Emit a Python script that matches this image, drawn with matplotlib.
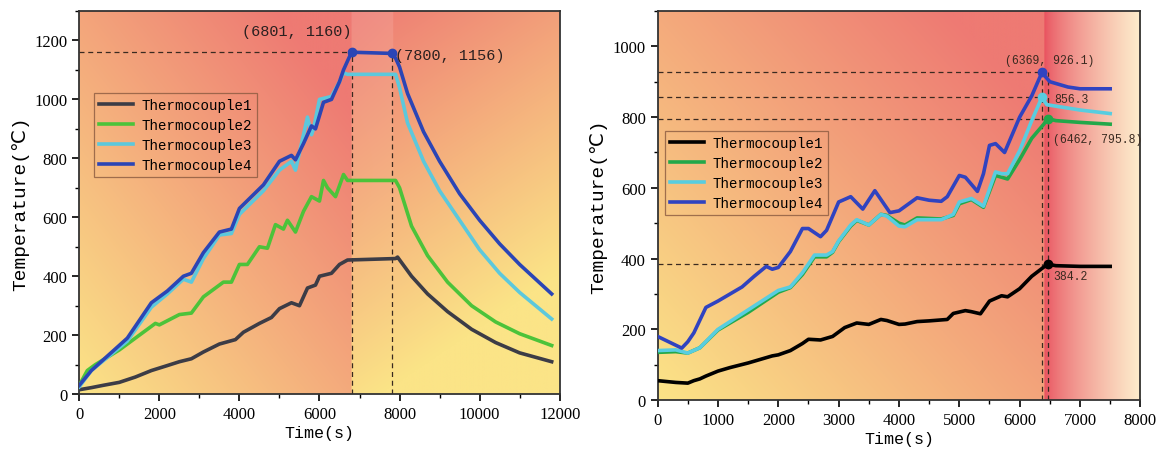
import numpy as np
import matplotlib.pyplot as plt
from matplotlib.ticker import MultipleLocator

# ---- left panel: full heating / holding / cooling cycle ----
t1_time = [0, 300, 600, 1000, 1400, 1800, 2200, 2500, 2800, 3100, 3500, 3900, 4100, 4500,
           4800, 5000, 5300, 5500, 5700, 5900, 6000, 6300, 6500, 6700, 7900, 7950, 8300,
           8700, 9200, 9800, 10400, 11000, 11800]
t1_temp = [15, 22, 30, 40, 58, 80, 97, 110, 120, 143, 170, 185, 210, 240, 260, 290, 310, 300,
           360, 370, 400, 410, 440, 455, 460, 465, 400, 340, 280, 220, 175, 140, 110]

t2_time = [0, 200, 400, 1000, 1500, 1900, 2000, 2500, 2800, 3100, 3600, 3800, 4000, 4200,
           4500, 4700, 4900, 5100, 5200, 5400, 5600, 5800, 6000, 6100, 6200, 6400, 6600,
           6700, 7900, 8000, 8300, 8700, 9200, 9800, 10400, 11000, 11800]
t2_temp = [30, 80, 100, 150, 200, 240, 235, 270, 275, 330, 380, 380, 440, 440, 500, 495, 575,
           560, 590, 550, 620, 670, 655, 725, 700, 670, 745, 725, 725, 700, 570, 470, 380,
           300, 245, 205, 165]

t3_time = [0, 300, 1200, 1800, 2200, 2600, 2800, 3100, 3500, 3800, 4000, 4600, 5000, 5300,
           5400, 5600, 5700, 5800, 5850, 6000, 6300, 6500, 6600, 6700, 7900, 8000, 8200,
           8600, 9000, 9500, 10000, 10500, 11000, 11800]
t3_temp = [25, 80, 180, 295, 340, 390, 380, 460, 540, 545, 610, 690, 760, 790, 760, 880, 940,
           880, 900, 1000, 1010, 1060, 1090, 1085, 1085, 1040, 920, 790, 690, 590, 490, 410,
           345, 255]

t4_time = [0, 300, 1200, 1800, 2200, 2600, 2800, 3100, 3500, 3800, 4000, 4600, 5000, 5300,
           5400, 5600, 5800, 5900, 6100, 6300, 6500, 6600, 6700, 6801, 7800, 7900, 8000,
           8200, 8600, 9000, 9500, 10000, 10500, 11000, 11800]
t4_temp = [30, 80, 190, 310, 350, 400, 410, 480, 550, 560, 630, 710, 790, 810, 795, 850, 910,
           900, 990, 1000, 1060, 1100, 1130, 1160, 1156, 1140, 1110, 1020, 890, 790, 680,
           590, 510, 440, 340]

# ---- right panel ----
r1_time = [0, 300, 500, 600, 700, 800, 1000, 1200, 1500, 1700, 1900, 2000, 2200, 2400, 2500,
           2700, 2900, 3100, 3300, 3500, 3700, 3800, 4000, 4100, 4300, 4500, 4800, 4900,
           5100, 5200, 5350, 5500, 5700, 5800, 6000, 6200, 6462, 6600, 7000, 7500]
r1_temp = [55, 50, 48, 55, 60, 68, 82, 92, 105, 115, 125, 128, 140, 160, 172, 170, 180, 205,
           218, 214, 228, 225, 214, 215, 222, 224, 228, 245, 253, 250, 244, 280, 295, 292,
           315, 350, 384.2, 380, 378, 378]

r2_time = [0, 300, 500, 700, 1000, 1500, 2000, 2200, 2400, 2600, 2800, 2900, 3000, 3200,
           3300, 3500, 3700, 3800, 4000, 4100, 4300, 4700, 4900, 5000, 5200, 5400, 5600,
           5700, 5800, 6000, 6200, 6400, 6462, 6600, 7000, 7500]
r2_temp = [135, 137, 133, 148, 198, 248, 305, 318, 355, 405, 405, 418, 448, 492, 508, 495,
           525, 522, 500, 495, 515, 512, 522, 555, 567, 545, 635, 630, 625, 680, 740, 780,
           795.8, 790, 785, 780]

r3_time = [0, 300, 500, 700, 1000, 1500, 2000, 2200, 2400, 2600, 2800, 2900, 3000, 3200,
           3300, 3500, 3700, 3800, 4000, 4100, 4300, 4700, 4900, 5000, 5200, 5400, 5600,
           5700, 5800, 6000, 6200, 6369, 6450, 7000, 7500]
r3_temp = [140, 142, 133, 148, 200, 255, 310, 320, 360, 410, 410, 420, 450, 495, 510, 495,
           525, 520, 492, 490, 510, 510, 525, 560, 570, 548, 645, 640, 640, 705, 790, 856.3,
           835, 820, 810]

r4_time = [0, 400, 500, 600, 800, 1000, 1200, 1400, 1600, 1800, 1900, 2000, 2200, 2400,
           2500, 2700, 2800, 3000, 3200, 3400, 3600, 3850, 4000, 4300, 4500, 4700, 4800,
           5000, 5100, 5300, 5400, 5500, 5600, 5750, 5900, 6000, 6200, 6369, 6500, 6800,
           7000, 7500]
r4_temp = [180, 147, 165, 190, 262, 280, 300, 320, 350, 378, 370, 375, 420, 485, 485, 462,
           480, 560, 575, 540, 592, 530, 535, 572, 565, 562, 575, 635, 630, 590, 640, 720,
           725, 700, 760, 800, 860, 926.1, 900, 885, 880, 880]

labels = ['Thermocouple1', 'Thermocouple2', 'Thermocouple3', 'Thermocouple4']
left_colors = ['#3c3c46', '#4cc33a', '#5cc8dc', '#2b45b5']
right_colors = ['#000000', '#22a84a', '#58cde0', '#3043c0']

serif = ['Liberation Serif', 'DejaVu Serif', 'DejaVu Sans']
mono = ['Liberation Mono', 'DejaVu Sans Mono', 'DejaVu Sans']
plt.rcParams['font.family'] = serif

fig = plt.figure(figsize=(11.66, 4.6), dpi=100)
ax1 = fig.add_axes([0.068, 0.141, 0.412, 0.833])
ax2 = fig.add_axes([0.564, 0.128, 0.414, 0.846])

yellow = np.array([251, 228, 135]) / 255
red = np.array([238, 122, 115]) / 255


def blend(c0, c1, s):
    s = np.clip(s, 0, 1)[..., None]
    return c0 * (1 - s) + c1 * s


# left background
nx, ny = 600, 300
xs = np.linspace(0, 12000, nx)
ys = np.linspace(0, 1300, ny)
X, Y = np.meshgrid(xs, ys)
fx = (X - 6801) / 5200
s = np.where(X < 6801, 0.55 * X / 6801 + 0.6 * Y / 1300,
             0.05 + 0.95 * Y / 1300 - 0.35 * fx)
img = blend(yellow, red, s)
band = (X >= 6801) & (X <= 7850)
w = (0.12 * (Y / 1300) ** 2)[band][:, None]
img[band] = img[band] * (1 - w) + w
ax1.imshow(img, extent=[0, 12000, 0, 1300], origin='lower', aspect='auto', zorder=0)

# right background
xs = np.linspace(0, 8000, nx)
ys = np.linspace(0, 1100, ny)
X, Y = np.meshgrid(xs, ys)
s = np.where(X < 6400, 0.6 * X / 6400 + 0.55 * Y / 1100, 0)
img = blend(yellow, red, s)
strong = np.array([232, 78, 92]) / 255
cream = np.array([253, 238, 205]) / 255
u = np.clip((X - 6400) / 1600, 0, 1) ** 0.7
right_part = blend(strong, cream, u)
img[X >= 6400] = right_part[X >= 6400]
ax2.imshow(img, extent=[0, 8000, 0, 1100], origin='lower', aspect='auto', zorder=0)

for tt, vv, c, lab in zip([t1_time, t2_time, t3_time, t4_time],
                          [t1_temp, t2_temp, t3_temp, t4_temp], left_colors, labels):
    ax1.plot(tt, vv, color=c, lw=2.6, label=lab, zorder=3)

for tt, vv, c, lab in zip([r1_time, r2_time, r3_time, r4_time],
                          [r1_temp, r2_temp, r3_temp, r4_temp], right_colors, labels):
    ax2.plot(tt, vv, color=c, lw=2.6, label=lab, zorder=3)

dash = dict(color='#3a2a20', lw=0.9, ls=(0, (4, 3)), zorder=2)

# left annotations
ax1.plot([0, 6801], [1160, 1160], **dash)
ax1.plot([6801, 6801], [0, 1160], **dash)
ax1.plot([7800, 7800], [0, 1156], **dash)
ax1.plot([6801, 7800], [1160, 1156], 'o', color=left_colors[3], ms=6, zorder=4)
ax1.text(6801, 1231, '(6801, 1160)', ha='right', va='center', fontsize=11,
         color='#2a2020', family=mono)
ax1.text(7880, 1152, '(7800, 1156)', ha='left', va='center', fontsize=11,
         color='#2a2020', family=mono)

# right annotations
for yv, xv in [(926.1, 6369), (856.3, 6369), (795.8, 6462), (384.2, 6462)]:
    ax2.plot([0, xv], [yv, yv], **dash)
ax2.plot([6369, 6369], [0, 926.1], **dash)
ax2.plot([6462, 6462], [0, 926.1], **dash)
ax2.plot([6369], [926.1], 'o', color=right_colors[3], ms=6, zorder=4)
ax2.plot([6369], [856.3], 'o', color=right_colors[2], ms=6, zorder=4)
ax2.plot([6462], [795.8], 'o', color=right_colors[1], ms=6, zorder=4)
ax2.plot([6462], [384.2], 'o', color=right_colors[0], ms=6, zorder=4)
ann = dict(fontsize=8.3, color='#3a2a20', family=mono)
ax2.text(6500, 962, '(6369, 926.1)', ha='center', va='center', **ann)
ax2.text(6565, 850, '856.3', ha='left', va='center', **ann)
ax2.text(6560, 738, '(6462, 795.8)', ha='left', va='center', **ann)
ax2.text(6565, 352, '384.2', ha='left', va='center', **ann)

for ax, xmax, ymax, xmaj, xmin, ymaj in [(ax1, 12000, 1300, 2000, 1000, 200),
                                          (ax2, 8000, 1100, 1000, 500, 200)]:
    ax.set_xlim(0, xmax)
    ax.set_ylim(0, ymax)
    ax.xaxis.set_major_locator(MultipleLocator(xmaj))
    ax.xaxis.set_minor_locator(MultipleLocator(xmin))
    ax.yaxis.set_major_locator(MultipleLocator(ymaj))
    ax.yaxis.set_minor_locator(MultipleLocator(100))
    ax.tick_params(which='major', direction='out', length=5, width=1.2, labelsize=12,
                   top=False, right=False)
    ax.tick_params(which='minor', direction='out', length=3, width=1, top=False, right=False)
    for sp in ax.spines.values():
        sp.set_linewidth(1.3)
        sp.set_color('#333333')
    ax.set_xlabel('Time(s)', fontsize=12, labelpad=2, family=mono)
    ax.set_ylabel('Temperature(℃)', fontsize=14, labelpad=4, family=mono)

leg_kw = dict(frameon=True, fancybox=False, handlelength=2.4,
              borderpad=0.35, labelspacing=0.42, handletextpad=0.6,
              prop={'family': mono, 'size': 10.2})
leg1 = ax1.legend(loc='upper left', bbox_to_anchor=(0.016, 0.805), **leg_kw)
leg2 = ax2.legend(loc='upper left', bbox_to_anchor=(0.0, 0.71), **leg_kw)
for leg in (leg1, leg2):
    leg.get_frame().set_facecolor('none')
    leg.get_frame().set_edgecolor('#8a5a40')
    leg.get_frame().set_linewidth(0.9)

fig.savefig('out.png', dpi=100)
